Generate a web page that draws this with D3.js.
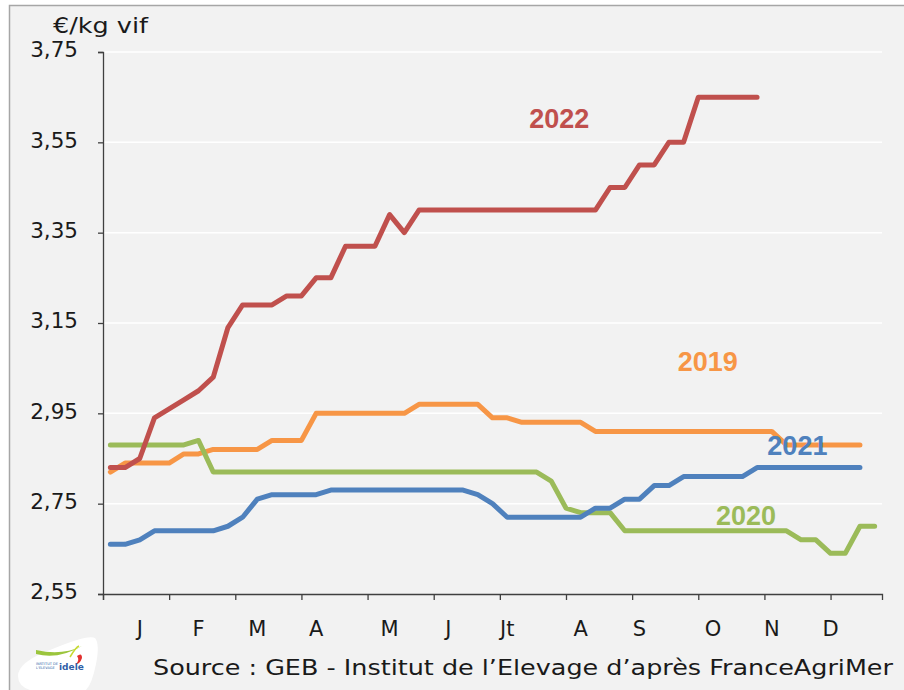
<!DOCTYPE html>
<html>
<head>
<meta charset="utf-8">
<script src="https://cdn.jsdelivr.net/npm/d3@7"></script>
<style>
  body { margin: 0; background: #ffffff; }
  svg { display: block; }
</style>
</head>
<body>
<div id="chart"></div>
<script>
// weekly prices, €/kg vif (index = week number - 1)
const prix2019 = [2.82, 2.84, 2.84, 2.84, 2.84, 2.86, 2.86, 2.87, 2.87, 2.87, 2.87, 2.89, 2.89, 2.89,
  2.95, 2.95, 2.95, 2.95, 2.95, 2.95, 2.95, 2.97, 2.97, 2.97, 2.97, 2.97, 2.94, 2.94, 2.93, 2.93,
  2.93, 2.93, 2.93, 2.91, 2.91, 2.91, 2.91, 2.91, 2.91, 2.91, 2.91, 2.91, 2.91, 2.91, 2.91, 2.91,
  2.88, 2.88, 2.88, 2.88, 2.88, 2.88];
const prix2020 = [2.88, 2.88, 2.88, 2.88, 2.88, 2.88, 2.89, 2.82, 2.82, 2.82, 2.82, 2.82, 2.82, 2.82,
  2.82, 2.82, 2.82, 2.82, 2.82, 2.82, 2.82, 2.82, 2.82, 2.82, 2.82, 2.82, 2.82, 2.82, 2.82, 2.82,
  2.80, 2.74, 2.73, 2.73, 2.73, 2.69, 2.69, 2.69, 2.69, 2.69, 2.69, 2.69, 2.69, 2.69, 2.69, 2.69,
  2.69, 2.67, 2.67, 2.64, 2.64, 2.70, 2.70];
const prix2021 = [2.66, 2.66, 2.67, 2.69, 2.69, 2.69, 2.69, 2.69, 2.70, 2.72, 2.76, 2.77, 2.77, 2.77,
  2.77, 2.78, 2.78, 2.78, 2.78, 2.78, 2.78, 2.78, 2.78, 2.78, 2.78, 2.77, 2.75, 2.72, 2.72, 2.72,
  2.72, 2.72, 2.72, 2.74, 2.74, 2.76, 2.76, 2.79, 2.79, 2.81, 2.81, 2.81, 2.81, 2.81, 2.83, 2.83,
  2.83, 2.83, 2.83, 2.83, 2.83, 2.83];
const prix2022 = [2.83, 2.83, 2.85, 2.94, 2.96, 2.98, 3.00, 3.03, 3.14, 3.19, 3.19, 3.19, 3.21, 3.21,
  3.25, 3.25, 3.32, 3.32, 3.32, 3.39, 3.35, 3.40, 3.40, 3.40, 3.40, 3.40, 3.40, 3.40, 3.40, 3.40,
  3.40, 3.40, 3.40, 3.40, 3.45, 3.45, 3.50, 3.50, 3.55, 3.55, 3.65, 3.65, 3.65, 3.65, 3.65];

const yTicks = [2.55, 2.75, 2.95, 3.15, 3.35, 3.55, 3.75];
const monthLabels = ["J", "F", "M", "A", "M", "J", "Jt", "A", "S", "O", "N", "D"];
const monthLabelWeeks = [2, 6, 10, 14, 19, 23, 27, 32, 36, 41, 45, 49];
const monthTickWeeks = [0, 4.5, 9, 13.5, 18, 22.5, 27, 31.5, 36, 40.5, 45, 49.5];

// draw order: 2019, 2020, 2021, 2022 on top
// label = [week, price] of the label's left baseline point
const series = [
  { name: "2019", values: prix2019, color: "#f79646", label: [39.1, 3.044] },
  { name: "2020", values: prix2020, color: "#9bbb59", label: [41.7, 2.703] },
  { name: "2021", values: prix2021, color: "#4f81bd", label: [45.2, 2.858] },
  { name: "2022", values: prix2022, color: "#c0504d", label: [29.0, 3.582] }
];

const width = 904, height = 690;
const font = "'DejaVu Sans', sans-serif";

const svg = d3.select("#chart").append("svg")
  .attr("width", width)
  .attr("height", height);

// chart area box
svg.append("rect")
  .attr("x", 9.5).attr("y", 5.5)
  .attr("width", 1000).attr("height", 1000)
  .attr("fill", "#f2f2f2")
  .attr("stroke", "#a6a6a6")
  .attr("stroke-width", 1.5);

const x = d3.scaleLinear().domain([0, 53]).range([103, 882]);
const y = d3.scaleLinear().domain([2.55, 3.75]).range([594, 52]);

// gridlines
svg.append("g")
  .selectAll("line")
  .data(yTicks.slice(1))
  .join("line")
  .attr("x1", x(0)).attr("x2", x(53))
  .attr("y1", d => y(d)).attr("y2", d => y(d))
  .attr("stroke", "#ffffff")
  .attr("stroke-width", 1.5);

// y axis
const yAxis = svg.append("g")
  .attr("transform", `translate(${x(0)},0)`)
  .call(d3.axisLeft(y)
    .tickValues(yTicks)
    .tickSize(5)
    .tickPadding(20)
    .tickFormat(d => d3.format(".2f")(d).replace(".", ",")));
yAxis.select(".domain").attr("stroke", "#404040").attr("stroke-width", 1.3);
yAxis.selectAll(".tick line").attr("stroke", "#404040").attr("stroke-width", 1.3);
yAxis.selectAll(".tick text")
  .attr("font-family", font)
  .attr("font-size", 21.5)
  .attr("fill", "#1a1a1a")
  .attr("dy", "0.22em");

// x axis (ticks only, labels placed on their weeks)
const xAxis = svg.append("g")
  .attr("transform", `translate(0,${y(2.55)})`)
  .call(d3.axisBottom(x)
    .tickValues(monthTickWeeks)
    .tickSize(6)
    .tickFormat(""));
xAxis.select(".domain").attr("stroke", "#404040").attr("stroke-width", 1.3);
xAxis.selectAll(".tick line").attr("stroke", "#404040").attr("stroke-width", 1.3);

svg.append("g")
  .selectAll("text")
  .data(monthLabels)
  .join("text")
  .attr("x", (d, i) => x(monthLabelWeeks[i] + 0.5))
  .attr("y", 636)
  .attr("text-anchor", "middle")
  .attr("font-family", font)
  .attr("font-size", 21)
  .attr("fill", "#1a1a1a")
  .text(d => d);

// unit label
svg.append("text")
  .attr("x", 53).attr("y", 33)
  .attr("font-family", font)
  .attr("font-size", 22)
  .attr("fill", "#1a1a1a")
  .attr("textLength", 95)
  .attr("lengthAdjust", "spacingAndGlyphs")
  .text("€/kg vif");

// lines
const line = d3.line()
  .x((d, i) => x(i + 0.5))
  .y(d => y(d));

svg.append("g")
  .selectAll("path")
  .data(series)
  .join("path")
  .attr("d", d => line(d.values))
  .attr("fill", "none")
  .attr("stroke", d => d.color)
  .attr("stroke-width", 5)
  .attr("stroke-linejoin", "round")
  .attr("stroke-linecap", "round");

// year labels
svg.append("g")
  .selectAll("text")
  .data(series)
  .join("text")
  .attr("x", d => x(d.label[0]))
  .attr("y", d => y(d.label[1]))
  .attr("font-family", "'Liberation Sans', Arial, sans-serif")
  .attr("font-size", 27)
  .attr("font-weight", "bold")
  .attr("fill", d => d.color)
  .text(d => d.name);

// source
svg.append("text")
  .attr("x", 153).attr("y", 675)
  .attr("font-family", font)
  .attr("font-size", 21)
  .attr("fill", "#1a1a1a")
  .attr("textLength", 740)
  .attr("lengthAdjust", "spacingAndGlyphs")
  .text("Source : GEB - Institut de l’Elevage d’après FranceAgriMer");

// idele logo (simplified)
const logo = svg.append("g");
logo.append("path")
  .attr("d", "M18,676 Q18,662 50,650 Q88,634 95,638 Q100,644 96,664 Q92,684 86,690 L30,690 Q18,686 18,676 Z")
  .attr("fill", "#ffffff");
logo.append("path")
  .attr("d", "M36,654 Q58,660 82,646 Q62,656 36,650 Z")
  .attr("fill", "#9bc53d");
logo.append("path")
  .attr("d", "M70,657 Q76,647 79,646")
  .attr("fill", "none")
  .attr("stroke", "#c7d92f")
  .attr("stroke-width", 1.5);
logo.append("path")
  .attr("d", "M77,656 Q82,652 82,658 Q80,664 76,664 Q80,660 77,656 Z")
  .attr("fill", "#e2312f");
logo.append("text")
  .attr("x", 36).attr("y", 665)
  .attr("font-family", font)
  .attr("font-size", 3.5)
  .attr("fill", "#2f5fa7")
  .text("INSTITUT DE");
logo.append("text")
  .attr("x", 36).attr("y", 669)
  .attr("font-family", font)
  .attr("font-size", 3.5)
  .attr("fill", "#2f5fa7")
  .text("L'ELEVAGE");
logo.append("text")
  .attr("x", 59).attr("y", 670)
  .attr("font-family", font)
  .attr("font-size", 9)
  .attr("font-weight", "bold")
  .attr("fill", "#2f5fa7")
  .text("idele");
</script>
</body>
</html>
